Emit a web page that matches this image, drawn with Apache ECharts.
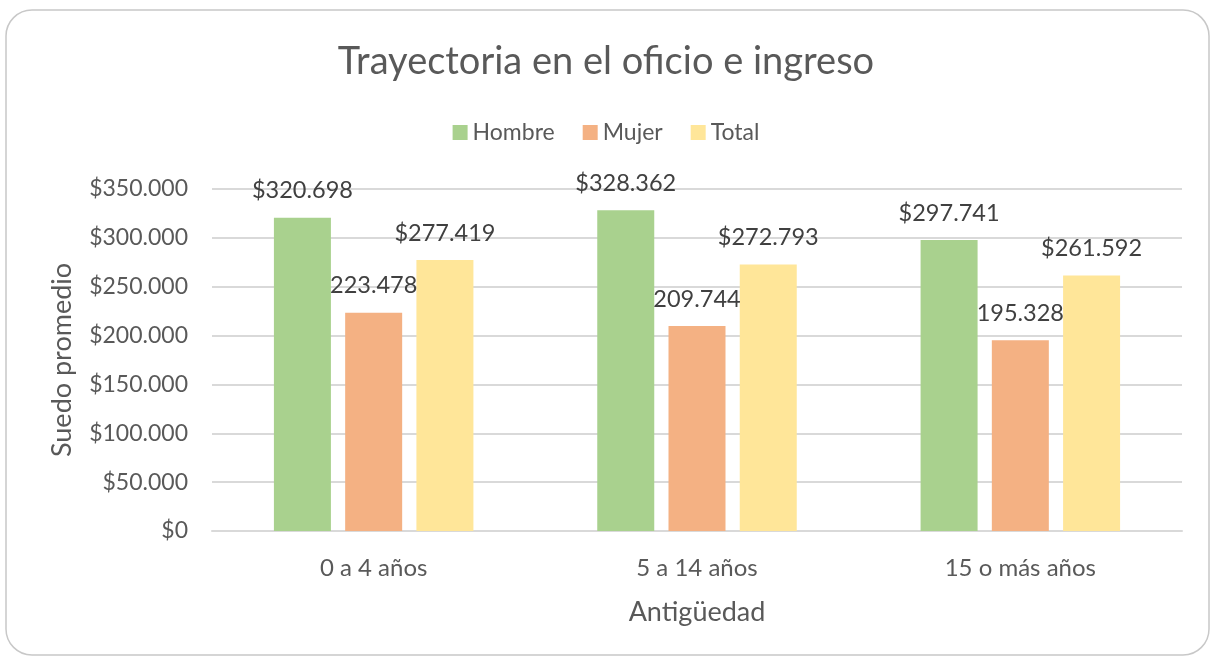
<!DOCTYPE html>
<html>
<head>
    <meta charset="utf-8">
    <title>Trayectoria en el oficio e ingreso</title>
    <script src="https://cdn.jsdelivr.net/npm/echarts@6/dist/echarts.min.js"></script>
    <style>
        html, body { margin: 0; padding: 0; background: #fff; }
        #container { width: 1212px; height: 659px; }
    </style>
</head>
<body>
<div id="container"></div>
<script>
    var categories = ['0 a 4 años', '5 a 14 años', '15 o más años'];
    var hombre = [320698, 328362, 297741];
    var mujer = [223478, 209744, 195328];
    var total = [277419, 272793, 261592];

    var colors = ['#A9D18E', '#F4B183', '#FFE699'];
    var textColor = '#595959';
    var font = 'Lato';

    // formato con punto de miles, como en el original
    function fmt(v) {
        return String(Math.round(v)).replace(/\B(?=(\d{3})+(?!\d))/g, '.');
    }

    function makeSeries(name, data, color, withDollar) {
        return {
            name: name,
            type: 'bar',
            data: data,
            barWidth: 57,
            barGap: '25%',
            itemStyle: { color: color },
            label: {
                show: true,
                position: 'top',
                distance: 15,
                color: '#404040',
                fontFamily: font,
                fontSize: 23.5,
                formatter: function (p) {
                    return (withDollar ? '$' : '') + fmt(p.value);
                }
            }
        };
    }

    var myChart = echarts.init(document.getElementById('container'));

    var option = {
        animation: false,
        textStyle: { fontFamily: font },
        graphic: [{
            type: 'rect',
            silent: true,
            shape: { x: 6, y: 10, width: 1203, height: 645, r: 26 },
            style: { fill: 'none', stroke: '#c8c8c8', lineWidth: 1.5 }
        }],
        title: {
            text: 'Trayectoria en el oficio e ingreso',
            left: 'center',
            top: 38,
            textStyle: {
                color: textColor,
                fontFamily: font,
                fontWeight: 'normal',
                fontSize: 38
            }
        },
        legend: {
            top: 116,
            left: 'center',
            itemWidth: 15,
            itemHeight: 15,
            itemGap: 28,
            icon: 'rect',
            textStyle: { color: textColor, fontFamily: font, fontSize: 23 },
            data: ['Hombre', 'Mujer', 'Total']
        },
        grid: {
            left: 212,
            right: 30,
            top: 189,
            bottom: 128
        },
        xAxis: {
            type: 'category',
            data: categories,
            name: 'Antigüedad',
            nameLocation: 'middle',
            nameGap: 68,
            nameTextStyle: { color: textColor, fontSize: 27, fontFamily: font },
            axisTick: { show: false },
            axisLine: { lineStyle: { color: '#d9d9d9', width: 2 } },
            axisLabel: { color: textColor, fontSize: 24, margin: 25, fontFamily: font }
        },
        yAxis: {
            type: 'value',
            min: 0,
            max: 350000,
            interval: 50000,
            name: 'Suedo promedio',
            nameLocation: 'middle',
            nameGap: 136,
            nameTextStyle: { color: textColor, fontSize: 27, fontFamily: font },
            axisLine: { show: false },
            axisTick: { show: false },
            splitLine: { lineStyle: { color: '#d9d9d9', width: 2 } },
            axisLabel: {
                color: textColor,
                fontSize: 23,
                margin: 24,
                fontFamily: font,
                formatter: function (v) { return '$' + fmt(v); }
            }
        },
        series: [
            makeSeries('Hombre', hombre, colors[0], true),
            makeSeries('Mujer', mujer, colors[1], false),
            makeSeries('Total', total, colors[2], true)
        ]
    };

    myChart.setOption(option);
</script>
</body>
</html>
